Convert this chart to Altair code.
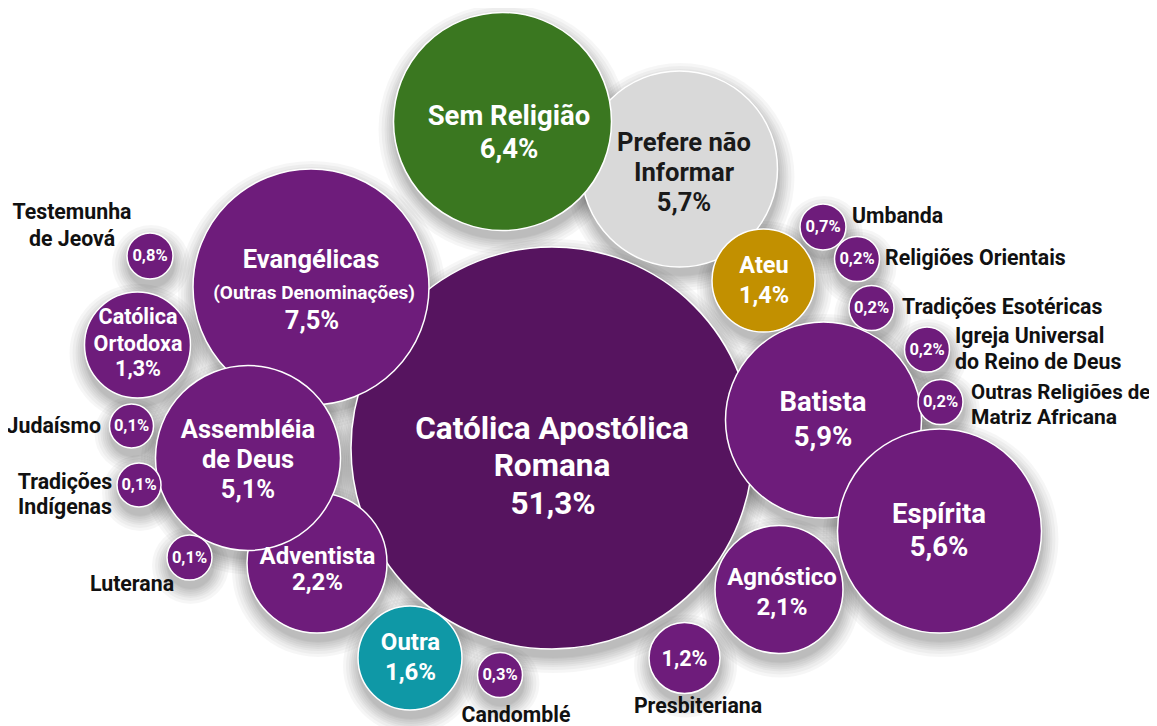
import altair as alt
import pandas as pd

# ---- data -------------------------------------------------------------
names = ["Católica Apostólica Romana", "Prefere não Informar", "Sem Religião",
         "Evangélicas (Outras Denominações)", "Adventista", "Assembléia de Deus",
         "Batista", "Espírita", "Agnóstico", "Ateu", "Católica Ortodoxa", "Outra",
         "Presbiteriana", "Testemunha de Jeová", "Umbanda", "Candomblé",
         "Religiões Orientais", "Tradições Esotéricas",
         "Igreja Universal do Reino de Deus", "Outras Religiões de Matriz Africana",
         "Judaísmo", "Tradições Indígenas", "Luterana"]
values = [51.3, 5.7, 6.4, 7.5, 2.2, 5.1, 5.9, 5.6, 2.1, 1.4, 1.3, 1.6, 1.2,
          0.8, 0.7, 0.3, 0.2, 0.2, 0.2, 0.2, 0.1, 0.1, 0.1]
groups = ["Católica", "Não informa", "Sem religião", "Cristã", "Cristã", "Cristã",
          "Cristã", "Cristã", "Cristã", "Ateu", "Cristã", "Outra", "Cristã",
          "Cristã", "Cristã", "Cristã", "Cristã", "Cristã", "Cristã", "Cristã",
          "Cristã", "Cristã", "Cristã"]
# bubble layout (layout units)
cx = [552, 679.5, 502.5, 311, 317, 248, 823.5, 939.5, 779, 763.5, 137.5, 410,
      684.5, 150, 823, 500, 857, 871.5, 927, 940.5, 131.5, 139, 189.5]
cy = [448, 169, 121.5, 287, 563, 458, 420, 531, 589.5, 280.5, 345, 658, 658,
      256, 227, 675, 259, 308, 349.5, 402, 426, 485, 557.5]
radius = [201, 98, 109, 118, 70, 92.5, 98, 102, 64, 51.5, 53, 52, 35.5, 23, 23,
          22.5, 22.5, 22.5, 22.5, 22.5, 22, 22, 22.5]

group_domain = ["Católica", "Cristã", "Sem religião", "Não informa", "Ateu", "Outra"]
group_colors = ["#56145f", "#6e1c7b", "#3a7720", "#d9d9d9", "#c29000", "#0f98a6"]


def pct(v):
    return f"{v:.1f}".replace(".", ",") + "%"


# label lines: text, x, y, font size, tone, align
ann = []


def add(text, x, y, size, tone="light", align="center"):
    ann.append(dict(text=text, x=x, y=y, fs=size, tone=tone, align=align))


add("Católica Apostólica", 552, 430, 31.5)
add("Romana", 552, 467, 31.5)
add(pct(values[0]), 553, 505, 31.5)
add("Prefere não", 684, 143, 25.6, "dark")
add("Informar", 684, 173, 25.6, "dark")
add(pct(values[1]), 684, 203, 25.6, "dark")
add("Sem Religião", 509, 117, 27.5)
add(pct(values[2]), 509, 150, 27.5)
add("Evangélicas", 311, 260, 25.5)
add("(Outras Denominações)", 314, 293, 19)
add(pct(values[3]), 312, 321, 25.5)
add("Adventista", 317.5, 557, 24)
add(pct(values[4]), 317.5, 583, 24)
add("Assembléia", 248, 430, 25.5)
add("de Deus", 248, 460, 25.5)
add(pct(values[5]), 248, 490, 25.5)
add("Batista", 823, 403, 27.5)
add(pct(values[6]), 823, 438, 27.5)
add("Espírita", 939, 515, 27.5)
add(pct(values[7]), 939, 548, 27.5)
add("Agnóstico", 782, 578, 24)
add(pct(values[8]), 782, 608, 24)
add("Ateu", 764, 266, 23.5)
add(pct(values[9]), 764, 296, 23.5)
add("Católica", 138, 318, 21.5)
add("Ortodoxa", 138, 345, 21.5)
add(pct(values[10]), 138, 370, 21.5)
add("Outra", 410.5, 643, 24)
add(pct(values[11]), 410.5, 673, 24)
add(pct(values[12]), 684.5, 660, 21.5)
for i in range(13, 23):
    add(pct(values[i]), cx[i], cy[i], 16.5)

add("Testemunha", 72, 213, 21.3, "ink")
add("de Jeová", 72, 240, 21.3, "ink")
add("Judaísmo", 101, 427, 21.3, "ink", "right")
add("Tradições", 65, 483, 21.3, "ink")
add("Indígenas", 65, 508, 21.3, "ink")
add("Luterana", 132, 585, 21.3, "ink")
add("Umbanda", 852, 217, 21.3, "ink", "left")
add("Religiões Orientais", 885, 259, 21.3, "ink", "left")
add("Tradições Esotéricas", 902, 308, 21.3, "ink", "left")
add("Igreja Universal", 955, 337, 21.3, "ink", "left")
add("do Reino de Deus", 955, 363, 21.3, "ink", "left")
add("Outras Religiões de", 971, 393, 20.5, "ink", "left")
add("Matriz Africana", 971, 418, 21, "ink", "left")
add("Candomblé", 516, 716, 21.3, "ink")
add("Presbiteriana", 698, 707, 21.3, "ink")

bubbles = pd.DataFrame(dict(name=names, value=values, group=groups,
                            cx=cx, cy=cy, r=radius, order=list(range(len(names)))))
labels = pd.DataFrame(ann)

W, H = 1141, 718
xs = alt.Scale(domain=[8, 8 + W], range=[0, W])
ys = alt.Scale(domain=[8, 8 + H], range=[0, H])
ss = alt.Scale(type="pow", exponent=2, domain=[0, 250], range=[0, 500 ** 2])

base = alt.Chart(bubbles)

shadow_layers = []
for k in [1, 2, 4, 6, 8, 10, 13, 16]:
    shadow_layers.append(
        base.transform_calculate(sx="datum.cx + 1", sy="datum.cy + 8", rs=f"datum.r + {k}")
        .mark_circle(color="#000000", opacity=0.035, stroke=None)
        .encode(x=alt.X("sx:Q", scale=xs, axis=None),
                y=alt.Y("sy:Q", scale=ys, axis=None),
                size=alt.Size("rs:Q", scale=ss, legend=None),
                order=alt.Order("order:Q"))
    )

circles = base.mark_circle(opacity=1, stroke="#ffffff", strokeWidth=1.5).encode(
    x=alt.X("cx:Q", scale=xs, axis=None),
    y=alt.Y("cy:Q", scale=ys, axis=None),
    size=alt.Size("r:Q", scale=ss, legend=None),
    color=alt.Color("group:N", scale=alt.Scale(domain=group_domain, range=group_colors),
                    legend=None),
    order=alt.Order("order:Q"),
    tooltip=["name:N", "value:Q"],
)

text_layers = []
for al in ["center", "left", "right"]:
    text_layers.append(
        alt.Chart(labels).transform_filter(alt.datum.align == al)
        .mark_text(font="Roboto", fontWeight="bold", align=al, baseline="middle")
        .encode(
            x=alt.X("x:Q", scale=xs, axis=None),
            y=alt.Y("y:Q", scale=ys, axis=None),
            text="text:N",
            size=alt.Size("fs:Q", scale=None),
            color=alt.Color("tone:N", scale=alt.Scale(domain=["light", "dark", "ink"],
                                                        range=["#ffffff", "#1a1a1a", "#111111"]),
                            legend=None),
        )
    )

chart = alt.layer(*shadow_layers, circles, *text_layers).resolve_scale(
    size="independent", color="independent"
).properties(
    width=W, height=H, padding=0, autosize=alt.AutoSizeParams(type="none"),
    background="#ffffff",
).configure_view(stroke=None)

chart.save("out.html", embed_options={"renderer": "svg", "actions": False})
